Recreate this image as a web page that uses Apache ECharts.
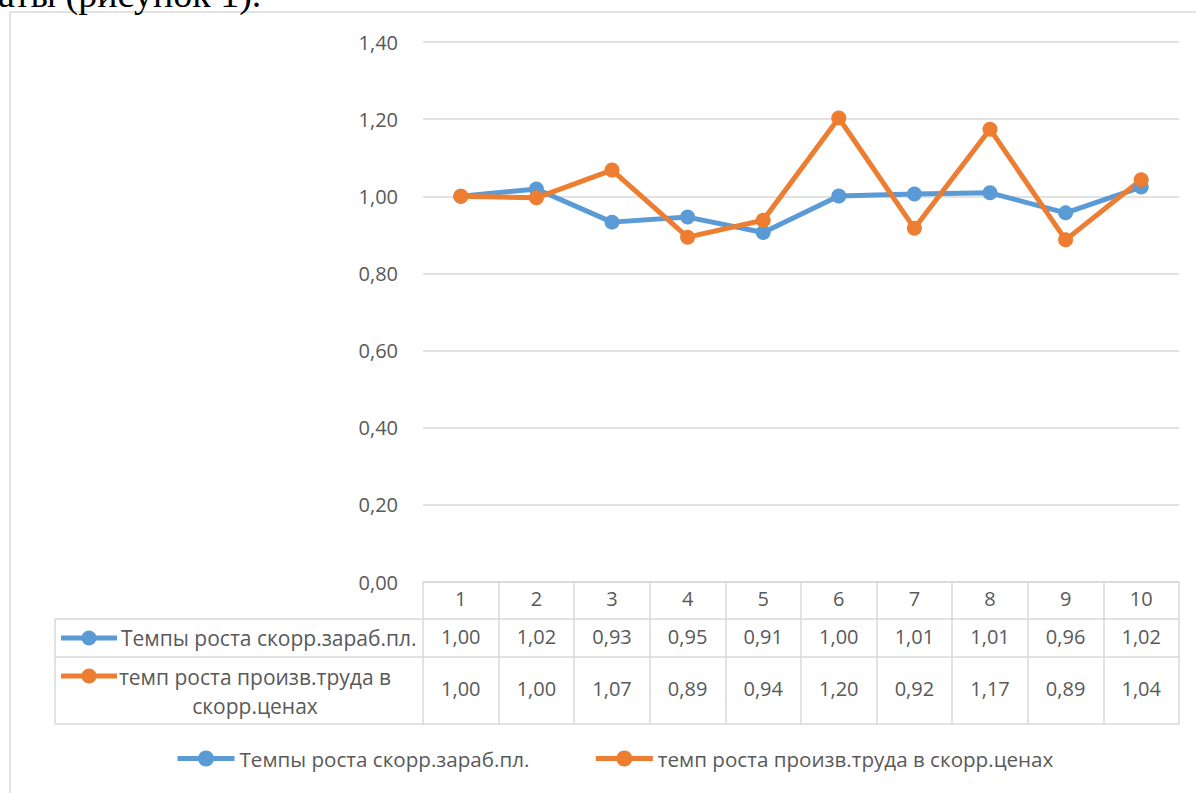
<!DOCTYPE html>
<html><head><meta charset="utf-8">
<script src="https://cdn.jsdelivr.net/npm/echarts@6/dist/echarts.min.js"></script>
<style>html,body{margin:0;padding:0;background:#fff}#c{width:1196px;height:793px}</style>
</head><body><div id="c"></div>
<script>
const categories = ['1','2','3','4','5','6','7','8','9','10'];
const wageGrowth = [1.00, 1.019, 0.933, 0.946, 0.906, 1.001, 1.006, 1.009, 0.957, 1.024];
const productivityGrowth = [1.00, 0.996, 1.068, 0.894, 0.938, 1.203, 0.917, 1.174, 0.887, 1.043];
const seriesNames = ['Темпы роста скорр.зараб.пл.', 'темп роста произв.труда в скорр.ценах'];
const tableRowLabels = ['Темпы роста скорр.зараб.пл.', 'темп роста произв.труда в\nскорр.ценах'];
const captionText = 'аты (рисунок 1).';

const BLUE = '#5B9BD5', ORANGE = '#ED7D31', GRID = '#d9d9d9', TXT = '#595959';
const FONT = 'Open Sans';
const fmt = v => v.toFixed(2).replace('.', ',');

const chart = echarts.init(document.getElementById('c'), null, {renderer: 'svg'});

const gL = 423, gR = 17, gT = 42, gB = 211; // grid
const H = 793, W = 1196;
const axisY = H - gB;          // 582
const r1 = axisY + 37, r2 = axisY + 75, r3 = axisY + 142;
const tabL = 55;

function tableAxis(offset, labels, margin, showLine) {
  return {
    type: 'category', data: categories, position: 'bottom', offset: offset,
    axisLine: {show: showLine, lineStyle: {color: GRID, width: 1.5}},
    axisTick: {show: false},
    axisLabel: {show: !!labels, margin: margin, color: TXT, fontFamily: FONT, fontSize: 20,
      formatter: (v, i) => labels ? labels[i] : ''},
    splitLine: {show: false}
  };
}

chart.setOption({
  animation: false,
  backgroundColor: '#fff',
  grid: {left: gL, right: gR, top: gT, bottom: gB, containLabel: false},
  xAxis: [
    {
      type: 'category', data: categories, position: 'bottom',
      axisLine: {show: true, lineStyle: {color: GRID, width: 1.5}},
      axisTick: {show: true, length: r3 - axisY, interval: 0, lineStyle: {color: GRID, width: 1.5}},
      axisLabel: {margin: 6, color: TXT, fontFamily: FONT, fontSize: 20, interval: 0},
      splitLine: {show: false}
    },
    tableAxis(37, wageGrowth.map(fmt), 7, true),
    tableAxis(75, productivityGrowth.map(fmt), 21, true),
    tableAxis(142, null, 0, true)
  ],
  yAxis: {
    type: 'value', min: 0, max: 1.4, interval: 0.2,
    axisLine: {show: false}, axisTick: {show: false},
    axisLabel: {margin: 25, color: TXT, fontFamily: FONT, fontSize: 20,
      formatter: v => v.toFixed(2).replace('.', ',')},
    splitLine: {lineStyle: {color: GRID, width: 1.5}}
  },
  legend: {
    left: 175, top: 748, padding: 0, itemWidth: 57, itemHeight: 20, itemGap: 64,
    lineStyle: {width: 5},
    textStyle: {color: TXT, fontFamily: FONT, fontSize: 20.6},
    data: seriesNames
  },
  series: [
    {name: seriesNames[0], type: 'line', data: wageGrowth, xAxisIndex: 0,
     symbol: 'circle', symbolSize: 15, itemStyle: {color: BLUE},
     lineStyle: {color: BLUE, width: 5}},
    {name: seriesNames[1], type: 'line', data: productivityGrowth, xAxisIndex: 0,
     symbol: 'circle', symbolSize: 15, itemStyle: {color: ORANGE},
     lineStyle: {color: ORANGE, width: 5}}
  ],
  graphic: [
    // outer frame
    {type: 'line', shape: {x1: 10, y1: 12, x2: W, y2: 12}, style: {stroke: GRID, lineWidth: 1.5}},
    {type: 'line', shape: {x1: 10, y1: 12, x2: 10, y2: H}, style: {stroke: GRID, lineWidth: 1.5}},
    // caption remnant (from the document page above the chart)
    {type: 'text', left: -2, top: -25, style: {text: captionText, fill: '#000', font: '38px "Liberation Serif"'}},
    // left label column of table
    {type: 'line', shape: {x1: tabL, y1: r1, x2: gL, y2: r1}, style: {stroke: GRID, lineWidth: 1.5}},
    {type: 'line', shape: {x1: tabL, y1: r2, x2: gL, y2: r2}, style: {stroke: GRID, lineWidth: 1.5}},
    {type: 'line', shape: {x1: tabL, y1: r3, x2: gL, y2: r3}, style: {stroke: GRID, lineWidth: 1.5}},
    {type: 'line', shape: {x1: tabL, y1: r1, x2: tabL, y2: r3}, style: {stroke: GRID, lineWidth: 1.5}},
    // icons
    {type: 'line', shape: {x1: 61, y1: 638, x2: 117, y2: 638}, style: {stroke: BLUE, lineWidth: 5}},
    {type: 'circle', shape: {cx: 89, cy: 638, r: 7.5}, style: {fill: BLUE}},
    {type: 'line', shape: {x1: 61, y1: 676, x2: 117, y2: 676}, style: {stroke: ORANGE, lineWidth: 5}},
    {type: 'circle', shape: {cx: 89, cy: 676, r: 7.5}, style: {fill: ORANGE}},
    {type: 'text', x: 121, y: 638, style: {text: tableRowLabels[0], fill: TXT, font: '21px "' + FONT + '"', verticalAlign: 'middle', align: 'left'}},
    {type: 'text', x: 255, y: 691, style: {text: tableRowLabels[1], fill: TXT, font: '21px "' + FONT + '"', verticalAlign: 'middle', align: 'center', lineHeight: 29}}
  ]
});
</script></body></html>
